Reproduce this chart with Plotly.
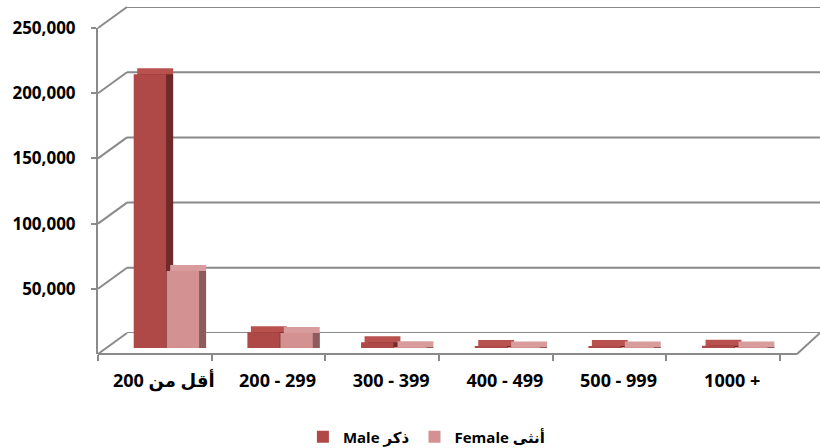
import plotly.graph_objects as go

# ---- data ----
categories = ["أقل من 200", "200 - 299", "300 - 399", "400 - 499", "500 - 999", "1000 +"]
male_values = [210000, 12000, 4500, 1500, 1500, 1700]
female_values = [59000, 11500, 600, 400, 400, 300]
y_ticks = [50000, 100000, 150000, 200000, 250000]
male_name = "Male ذكر"
female_name = "Female أنثى"

W, H = 820, 448
YMAX = 250000
FONT = "Open Sans, DejaVu Sans, sans-serif"
GRID = "#8a8a8a"

def px(x):
    return x / W

def py(y):
    return 1 - y / H

# planes (pixel geometry of the pseudo-3D box)
front_x0, front_x1, front_y0, front_ytop = 98, 780, 354, 28
back_x0, back_y0, back_ytop = 127, 333, 7
bar_x0, bar_x1, bar_y0, bar_ytop = 107, 789, 348, 22

cat_px = (bar_x1 - bar_x0) / len(categories)
depth_units = 7 / cat_px            # side face depth in category units
cap_value = 6 * YMAX / (bar_y0 - bar_ytop)  # top face height in value units

male_off, female_off, bw = -0.265, 0.025, 0.285

colors = dict(
    male_front="#af4947", male_side="#6e2a28", male_top="#b9524f",
    female_front="#d49191", female_side="#8c5c5c", female_top="#d99c9c",
)

fig = go.Figure()

# back wall -> axes x / y
fig.add_trace(go.Scatter(x=categories, y=male_values, xaxis="x", yaxis="y",
                         mode="markers", marker=dict(opacity=0),
                         hoverinfo="skip", showlegend=False))

def add_series(vals, off, front, side, top, name):
    fig.add_trace(go.Bar(x=categories, y=[v + cap_value for v in vals],
                         offset=off + depth_units / 2, width=bw + depth_units / 2,
                         marker=dict(color=top, line=dict(width=0)),
                         xaxis="x2", yaxis="y2", showlegend=False, hoverinfo="skip"))
    fig.add_trace(go.Bar(x=categories, y=vals,
                         offset=off + depth_units, width=bw,
                         marker=dict(color=side, line=dict(width=0)),
                         xaxis="x2", yaxis="y2", showlegend=False, hoverinfo="skip"))
    fig.add_trace(go.Bar(x=categories, y=vals, offset=off, width=bw, name=name,
                         marker=dict(color=front, line=dict(width=0)),
                         xaxis="x2", yaxis="y2"))

add_series(male_values, male_off, colors["male_front"], colors["male_side"],
           colors["male_top"], male_name)
add_series(female_values, female_off, colors["female_front"], colors["female_side"],
           colors["female_top"], female_name)

# front axes
fig.add_trace(go.Scatter(x=categories, y=male_values, xaxis="x3", yaxis="y3",
                         mode="markers", marker=dict(opacity=0),
                         hoverinfo="skip", showlegend=False))

shapes = []
scale = (front_y0 - front_ytop) / YMAX
for v in [0] + y_ticks:
    # back wall gridline
    shapes.append(dict(type="line", xref="x domain", yref="y",
                       x0=0, x1=1, y0=v, y1=v, layer="below",
                       line=dict(color=GRID, width=2)))
    # side wall diagonal
    shapes.append(dict(type="line", xref="paper", yref="paper",
                       x0=px(front_x0), y0=py(front_y0 - v * scale),
                       x1=px(back_x0), y1=py(back_y0 - v * scale),
                       layer="below", line=dict(color=GRID, width=2)))
# floor front edge and right edge
shapes.append(dict(type="line", xref="paper", yref="paper",
                   x0=px(front_x0), y0=py(front_y0), x1=px(797), y1=py(front_y0),
                   line=dict(color=GRID, width=2)))
shapes.append(dict(type="line", xref="paper", yref="paper",
                   x0=px(797), y0=py(front_y0), x1=px(820), y1=py(back_y0),
                   line=dict(color=GRID, width=2)))

fig.update_layout(
    width=W, height=H,
    margin=dict(l=0, r=0, t=0, b=0, pad=0, autoexpand=False),
    paper_bgcolor="white", plot_bgcolor="rgba(0,0,0,0)",
    barmode="overlay",
    showlegend=True,
    font=dict(family=FONT, size=18, color="#000000", weight="bold"),
    xaxis=dict(domain=[px(back_x0), 1.0], anchor="y", visible=False,
               range=[-0.5, len(categories) - 0.5], fixedrange=True),
    yaxis=dict(domain=[py(back_y0), py(back_ytop)], anchor="x", range=[0, YMAX],
               visible=False),
    xaxis2=dict(domain=[px(bar_x0), px(bar_x1)], anchor="free", position=py(368),
                range=[-0.5, len(categories) - 0.5], showline=False, ticks="",
                showgrid=False, tickfont=dict(size=18, weight="bold")),
    yaxis2=dict(domain=[py(bar_y0), py(bar_ytop)], anchor="x2", range=[0, YMAX],
                visible=False),
    xaxis3=dict(domain=[px(front_x0), px(front_x1)], anchor="y3",
                range=[-0.5, len(categories) - 0.5], showline=False,
                ticks="outside", tickson="boundaries", ticklen=6, tickwidth=2,
                tickcolor=GRID, showticklabels=False, showgrid=False),
    yaxis3=dict(domain=[py(front_y0), py(front_ytop)], anchor="x3", range=[0, YMAX],
                tickvals=y_ticks, tickformat=",", ticks="outside", ticklen=5,
                tickwidth=2, tickcolor=GRID, showline=True, linecolor=GRID,
                linewidth=2, showgrid=False, zeroline=False,
                ticklabelstandoff=12,
                tickfont=dict(size=17, weight="bold")),
    legend=dict(orientation="h", xref="container", yref="container",
                x=0.52, xanchor="center", y=py(437), yanchor="middle",
                font=dict(size=15, weight="bold"), itemwidth=30,
                traceorder="normal", bgcolor="rgba(0,0,0,0)"),
    shapes=shapes,
)

fig.write_html("out.html", config={"displayModeBar": False},
               post_script="document.body.style.margin='0';")
